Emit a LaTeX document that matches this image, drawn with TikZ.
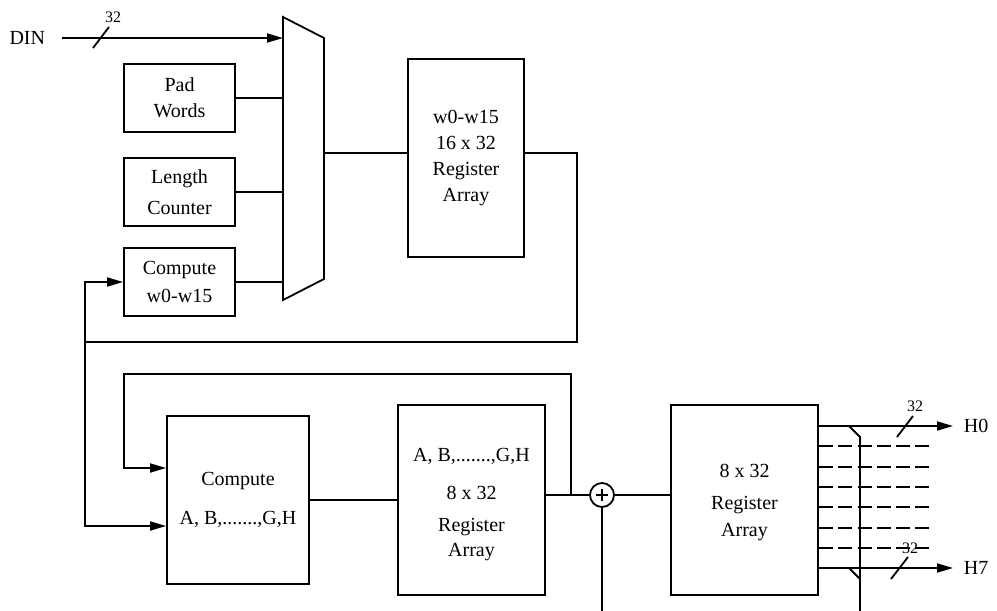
\documentclass[tikz,border=0pt]{standalone}
\usepackage{fontspec}
\setmainfont{Liberation Serif}
\usepackage{tikz}
\usetikzlibrary{calc}
\usetikzlibrary{arrows.meta}
\tikzset{blk/.style={draw, inner sep=0, align=center, font=\fontsize{20}{25}\selectfont}}
\tikzset{txt/.style={inner sep=0, align=center, font=\fontsize{20}{25}\selectfont}}
\tikzset{num/.style={inner sep=0, font=\fontsize{16}{18}\selectfont}}
\tikzset{bus/.style={-{Triangle[length=16pt,width=9pt]}}}
\tikzset{tap/.style={dash pattern=on 14pt off 5.3pt}}

\begin{document}
\begin{tikzpicture}[x=1pt, y=-1pt, line width=1.8pt]
  \useasboundingbox (0, 0) rectangle (997, 611);

  % message schedule
  \node[blk, minimum width=111pt, minimum height=68pt] at (179.5, 98) (pad) {Pad\\[1pt]Words};
  \node[blk, minimum width=111pt, minimum height=68pt] at (179.5, 192) (len) {Length\\[6pt]Counter};
  \node[blk, minimum width=111pt, minimum height=68pt] at (179.5, 282) (cw) {Compute\\[3pt]w0-w15};

  \coordinate (mtl) at (283, 17);
  \coordinate (mtr) at (324, 38);
  \coordinate (mbr) at (324, 279);
  \coordinate (mbl) at (283, 300);
  \coordinate (mout) at (324, 153);
  \draw (mtl) -- (mtr) -- (mbr) -- (mbl) -- cycle;

  \node[txt, anchor=east, inner xsep=16pt] at (62, 38) (din) {DIN};
  \draw[bus] (din.east) -- (din.east -| mtl);
  \draw (93, 48) -- (109, 27);
  \node[num] at (113, 17) (wdin) {32};

  \draw (pad.east) -- (pad.east -| mtl);
  \draw (len.east) -- (len.east -| mtl);
  \draw (cw.east) -- (cw.east -| mtl);

  \node[blk, minimum width=116pt, minimum height=198pt] at (466, 158) (wreg) {w0-w15\\[1pt]16 x 32\\[1pt]Register\\[1pt]Array};
  \draw (mout) -- (mout -| wreg.west);

  \coordinate (wout) at (wreg.east |- mout);
  \coordinate (fb) at (85, 342);
  \draw (wout) -| (577, 342) -- (fb);
  \draw[bus] (fb) |- (cw.west);

  % compression
  \node[blk, minimum width=142pt, minimum height=168pt] at (238, 500) (cabgh) {Compute\\[14pt]A, B,.......,G,H};
  \coordinate (cin1) at ($(cabgh.west)+(0, -32)$);
  \coordinate (cin2) at ($(cabgh.west)+(0, 26)$);
  \draw[bus] (fb) |- (cin2);

  \node[blk, minimum width=147pt, minimum height=190pt] at (471.5, 500) (abreg) {};
  \node[txt] at (471.5, 505) (abtxt) {A, B,.......,G,H\\[13pt]8 x 32\\[7pt]Register\\Array};
  \draw (cabgh.east) -- (cabgh.east -| abreg.west);

  \node[circle, draw, minimum size=24pt, inner sep=0] at (602, 495) (add) {};
  \draw[line width=1.4pt] ([xshift=-6pt]add.center) -- ([xshift=6pt]add.center);
  \draw[line width=1.4pt] ([yshift=-6pt]add.center) -- ([yshift=6pt]add.center);

  \coordinate (jn) at (571, 495);
  \draw (add.west -| abreg.east) -- (add.west);
  \draw[bus] (jn) |- (124, 374) |- (cin1);

  \node[blk, minimum width=147pt, minimum height=190pt] at (744.5, 500) (hreg) {};
  \node[txt] at (744.5, 503) (htxt) {8 x 32\\[7pt]Register\\[2pt]Array};
  \draw (add.east) -- (add.east -| hreg.west);

  \coordinate (addin) at (602, 611);
  \draw (add.south) -- (addin);

  % hash outputs
  \node[txt, anchor=west, inner xsep=10pt] at (953, 426) (h0) {H0};
  \node[txt, anchor=west, inner xsep=10pt] at (953, 568) (h7) {H7};
  \draw[bus] (h0.west -| hreg.east) -- (h0.west);
  \draw[bus] (h7.west -| hreg.east) -- (h7.west);
  \foreach \y in {446, 467, 487, 507, 528, 548} {
    \draw[tap] (hreg.east |- 0, \y) -- (933, \y);
  }

  \draw (849, 426) -- (860, 437) -- (860, 611);
  \draw (849, 568) -- (860, 579);

  \draw (897, 437) -- (913, 416);
  \node[num] at (915, 406) (wh0) {32};
  \draw (891, 579) -- (908, 557);
  \node[num] at (910, 548) (wh7) {32};
\end{tikzpicture}
\end{document}
